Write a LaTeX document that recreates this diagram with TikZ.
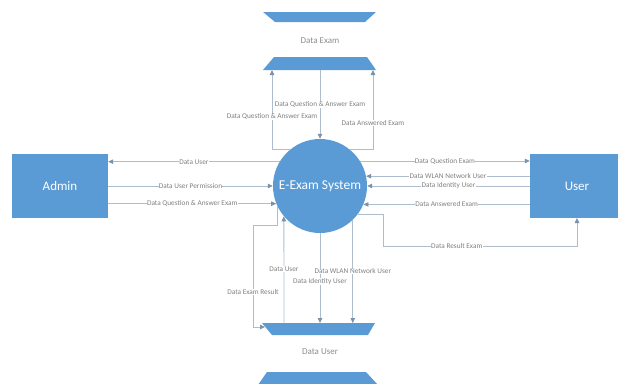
\documentclass[tikz,border=0pt]{standalone}
\usepackage{fontspec}
\setmainfont{Carlito}
\usetikzlibrary{arrows.meta}
\definecolor{boxblue}{HTML}{5B9BD5}
\definecolor{linec}{HTML}{ADBDCC}
\definecolor{tipc}{HTML}{7A93AB}
\definecolor{lblc}{HTML}{808080}
\begin{document}
\begin{tikzpicture}[x=1pt,y=-1pt,
  flow/.style={draw=linec, line width=0.8pt, -{Triangle[width=4.5pt,length=5pt,color=tipc]}},
  lbl/.style={fill=white, inner sep=0.4pt, text=lblc, font=\fontsize{7.3}{8}\selectfont},
  entity/.style={fill=boxblue, minimum width=96pt, minimum height=64pt, inner sep=0pt, text=white, font=\fontsize{13}{15}\selectfont},
  proc/.style={circle, fill=boxblue, minimum size=94pt, inner sep=0pt, text=white, font=\fontsize{13.5}{16}\selectfont},
  storebar/.style={fill=boxblue},
  storetxt/.style={text=lblc!90, font=\fontsize{9}{11}\selectfont}]
\useasboundingbox (0,0) rectangle (618,383);

% nodes
\node[proc] (sys) at (320,186) {E-Exam System};
\node[entity] (admin) at (60,186) {Admin};
\node[entity, minimum width=88pt] (user) at (574,186) {\hspace*{6pt}User};

% Data Exam store
\fill[storebar] (263,12) -- (376,12) -- (365,22) -- (275,22) -- cycle;
\node[storetxt] (examtxt) at (320,41) {Data Exam};
\fill[storebar] (274,57) -- (367,57) -- (376,70) -- (263,70) -- cycle;
\coordinate (exqa) at (272,70);
\coordinate (exmid) at (320,70);
\coordinate (exans) at (373,70);

% Data User store
\fill[storebar] (262,323) -- (375,323) -- (368,335) -- (272,335) -- cycle;
\node[storetxt] (usertxt) at (320,352) {Data User};
\fill[storebar] (267,372) -- (366,372) -- (378,385) -- (258,385) -- cycle;
\coordinate (dutop) at (284,323);
\coordinate (dul) at (265,327);
\coordinate (er) at (253,225);

% top connectors
\draw[flow] (exmid) -- node[lbl]{Data Question \& Answer Exam} (sys.north);
\draw[flow] (sys.130) -| node[lbl, pos=0.706]{Data Question \& Answer Exam} (exqa);
\draw[flow] (sys.50) -| node[lbl, pos=0.67]{Data Answered Exam} (exans);

% left connectors
\draw[flow] (sys.149.3) -- node[lbl]{Data User} (sys.149.3 -| admin.east);
\draw[flow] (admin.east) -- node[lbl]{Data User Permission} (sys.west);
\draw[flow] (sys.202.5 -| admin.east) -- node[lbl]{Data Question \& Answer Exam} (sys.202.5);

% right connectors
\draw[flow] (sys.32.1) -- node[lbl]{Data Question Exam} (sys.32.1 -| user.west);
\draw[flow] (sys.12.3 -| user.west) -- node[lbl]{Data WLAN Network User} (sys.12.3);
\draw[flow] (user.west) -- node[lbl]{Data Identity User} (sys.east);
\draw[flow] (sys.337.5 -| user.west) -- node[lbl]{Data Answered Exam} (sys.337.5);
\coordinate (r1) at (383,246);
\coordinate (r2) at (577,246);
\coordinate (uin) at (577,218);
\draw[flow] (sys.323.4) -| (r1) -- node[lbl, pos=0.38]{Data Result Exam} (r2) -- (uin);

% bottom connectors
\draw[flow] (dutop) -- node[lbl, pos=0.505]{Data User} (sys.220);
\draw[flow] (sys.south) -- node[lbl, pos=0.54]{Data Identity User} (sys.south |- dutop);
\draw[flow] (sys.314.6) -- node[lbl, pos=0.5]{Data WLAN Network User} (sys.314.6 |- dutop);
\draw[flow] (sys.205) |- (er) |- node[lbl, pos=0.33]{Data Exam Result} (dul);
\end{tikzpicture}
\end{document}
